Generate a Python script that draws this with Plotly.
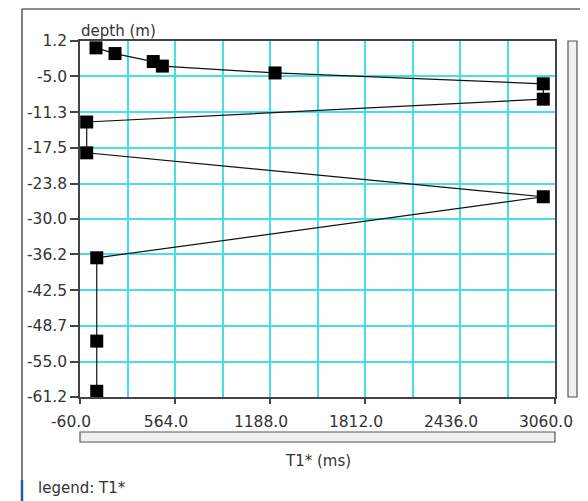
import plotly.graph_objects as go

# ---- data ----
t1_ms = [45, 170, 421, 481, 1221, 2983, 2983, -16, -16, 2983, 50, 50, 50]
depth_m = [0.0, -1.0, -2.4, -3.2, -4.4, -6.3, -9.0, -13.0, -18.4, -26.1, -36.8, -51.4, -60.2]

x_ticks = [-60.0, 564.0, 1188.0, 1812.0, 2436.0, 3060.0]
x_minor = [252.0, 876.0, 1500.0, 2124.0, 2748.0]
y_ticks = [1.2, -5.0, -11.3, -17.5, -23.8, -30.0, -36.2, -42.5, -48.7, -55.0, -61.2]

# ---- layout geometry (pixels in the 588x501 window; page body has an 8px margin) ----
OFF = 8
W, H = 588 - OFF, 501 - OFF
L, R, T, B = 80 - OFF, 555 - OFF, 41 - OFF, 397 - OFF
pw, ph = R - L, B - T


def px(x):
    return (x - OFF - L) / pw


def py(y):
    return (B - (y - OFF)) / ph


FONT = "DejaVu Sans"
TXT = "#333333"
CYAN = "#45dfe6"
DARK = "#444444"

fig = go.Figure()
fig.add_trace(go.Scatter(
    x=t1_ms, y=depth_m, mode="lines+markers",
    line=dict(color="#111111", width=1.2),
    marker=dict(symbol="square", size=13, color="#000000"),
    cliponaxis=False, showlegend=False,
))

fig.update_layout(
    width=W, height=H,
    margin=dict(l=L, r=W - R, t=T, b=H - B),
    paper_bgcolor="white", plot_bgcolor="white",
    font=dict(family=FONT, color=TXT, size=15),
    xaxis=dict(
        range=[-60, 3060], tickvals=x_ticks,
        ticktext=[f"{v:.1f}" for v in x_ticks],
        ticks="outside", ticklen=5, tickcolor=DARK, tickwidth=1.5,
        showline=True, linecolor=DARK, linewidth=1.5, mirror=True,
        showgrid=True, gridcolor=CYAN, gridwidth=2,
        minor=dict(tickvals=x_minor, showgrid=True, gridcolor=CYAN, gridwidth=2, ticklen=0),
        zeroline=False, tickfont=dict(size=15.5, color=TXT),
        ticklabelshift=-9, ticklabelstandoff=5,
    ),
    yaxis=dict(
        range=[-61.2, 1.2], tickvals=y_ticks,
        ticktext=[f"{v:.1f}" for v in y_ticks],
        ticks="outside", ticklen=8, tickcolor=DARK, tickwidth=1.5,
        showline=True, linecolor=DARK, linewidth=1.5, mirror=True,
        showgrid=True, gridcolor=CYAN, gridwidth=2,
        zeroline=False, tickfont=dict(size=15.5, color=TXT),
    ),
)

shapes = [
    # outer frame
    dict(type="line", xref="paper", yref="paper", x0=px(22), x1=px(583), y0=py(9), y1=py(9),
         line=dict(color="#666666", width=1.5)),
    dict(type="line", xref="paper", yref="paper", x0=px(22), x1=px(22), y0=py(9), y1=py(480),
         line=dict(color="#555555", width=1.5)),
    dict(type="line", xref="paper", yref="paper", x0=px(22), x1=px(22), y0=py(480), y1=py(501),
         line=dict(color="#1f5f99", width=2.5)),
    # right scrollbar
    dict(type="rect", xref="paper", yref="paper", x0=px(568), x1=px(577), y0=py(41), y1=py(397),
         line=dict(color="#555555", width=1.2), fillcolor="#f0f0f0"),
    # bottom scrollbar
    dict(type="rect", xref="paper", yref="paper", x0=px(80), x1=px(555), y0=py(432), y1=py(442),
         line=dict(color="#555555", width=1.2), fillcolor="#f0f0f0"),
]
fig.update_layout(shapes=shapes)

annotations = [
    dict(text="depth (m)", xref="paper", yref="paper", x=px(79), y=py(31),
         xanchor="left", yanchor="middle", showarrow=False, font=dict(size=15, color=TXT)),
    dict(text="T1* (ms)", xref="paper", yref="paper", x=px(318), y=py(461),
         xanchor="center", yanchor="middle", showarrow=False, font=dict(size=15, color=TXT)),
    dict(text="legend: T1*", xref="paper", yref="paper", x=px(36), y=py(488),
         xanchor="left", yanchor="middle", showarrow=False, font=dict(size=15, color=TXT)),
]
fig.update_layout(annotations=annotations)

fig.write_html("out.html")
